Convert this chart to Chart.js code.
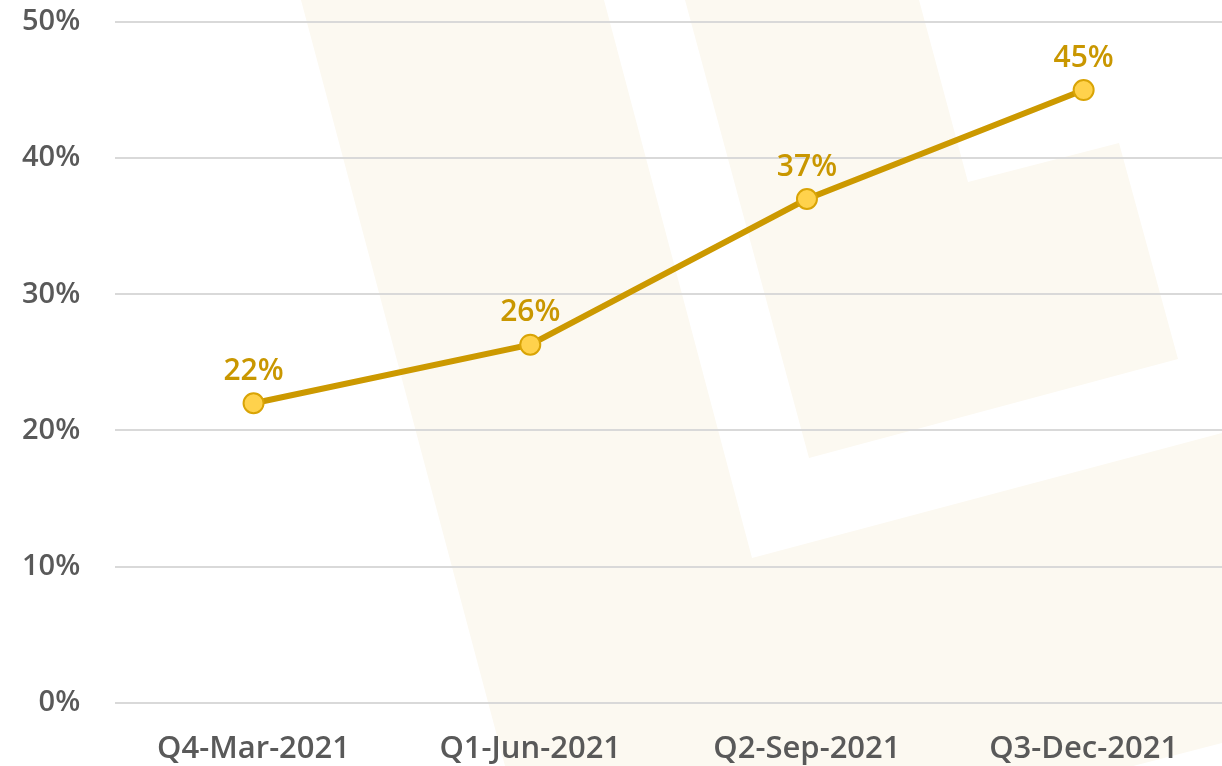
<!DOCTYPE html>
<html lang="en">
<head>
    <meta charset="UTF-8">
    <title>Quarterly share</title>
    <style>
        html, body { margin: 0; padding: 0; background: #ffffff; }
        #chartBox { width: 1222px; height: 766px; }
    </style>
</head>
<body>
    <div id="chartBox">
        <canvas id="shareChart" width="1222" height="766"></canvas>
    </div>

    <script src="https://cdn.jsdelivr.net/npm/chart.js"></script>
    <script>
        // Chart data
        const quarters = ['Q4-Mar-2021', 'Q1-Jun-2021', 'Q2-Sep-2021', 'Q3-Dec-2021'];
        const shareValues = [22, 26.3, 37, 45];
        const yTicks = [0, 10, 20, 30, 40, 50];

        const fontFamily = '"Open Sans", "Noto Sans", sans-serif';

        // Faint logo in the background
        const watermark = {
            id: 'watermark',
            beforeDraw(chart) {
                const ctx = chart.ctx;
                const shapes = [
                    [[301, 0], [604, 0], [752, 558], [1222, 433], [1222, 743], [1133, 766], [505, 766]],
                    [[685, 0], [919, 0], [968, 182], [1119, 143], [1178, 359], [809, 458]]
                ];
                ctx.save();
                ctx.fillStyle = '#fcf9f1';
                shapes.forEach(pts => {
                    ctx.beginPath();
                    pts.forEach((p, i) => i ? ctx.lineTo(p[0], p[1]) : ctx.moveTo(p[0], p[1]));
                    ctx.closePath();
                    ctx.fill();
                });
                ctx.restore();
            }
        };

        // Value labels above each point
        const pointLabels = {
            id: 'pointLabels',
            afterDatasetsDraw(chart) {
                const ctx = chart.ctx;
                const meta = chart.getDatasetMeta(0);
                ctx.save();
                ctx.font = '600 30px ' + fontFamily;
                ctx.fillStyle = '#c99700';
                ctx.textAlign = 'center';
                ctx.textBaseline = 'middle';
                meta.data.forEach((pt, i) => {
                    ctx.fillText(Math.round(shareValues[i]) + '%', pt.x, pt.y - 32);
                });
                ctx.restore();
            }
        };

        new Chart(document.getElementById('shareChart').getContext('2d'), {
            type: 'line',
            data: {
                labels: quarters,
                datasets: [{
                    data: shareValues,
                    borderColor: '#cc9900',
                    borderWidth: 6,
                    pointRadius: 10,
                    pointHoverRadius: 10,
                    pointBackgroundColor: '#ffd24c',
                    pointBorderColor: '#d9a406',
                    pointBorderWidth: 2,
                    tension: 0
                }]
            },
            options: {
                responsive: false,
                animation: false,
                layout: {
                    autoPadding: false,
                    padding: { top: 22, left: 22, right: 0, bottom: -2 }
                },
                plugins: {
                    legend: { display: false },
                    tooltip: { enabled: false }
                },
                scales: {
                    x: {
                        offset: true,
                        // transparent ticks give the gap under the plot without extra side padding
                        grid: { color: 'transparent', drawTicks: true, tickLength: 28 },
                        border: { display: false },
                        ticks: {
                            color: '#595959',
                            padding: 0,
                            maxRotation: 0,
                            font: { family: fontFamily, size: 31, weight: '600' }
                        }
                    },
                    y: {
                        min: 0,
                        max: 50,
                        afterBuildTicks(axis) {
                            axis.ticks = yTicks.map(v => ({ value: v }));
                        },
                        grid: { color: '#d9d9d9', lineWidth: 2, drawTicks: true, tickLength: 35, tickColor: 'transparent' },
                        border: { display: false },
                        ticks: {
                            color: '#595959',
                            padding: 0,
                            font: { family: fontFamily, size: 29, weight: '600' },
                            callback: v => v + '%'
                        }
                    }
                }
            },
            plugins: [watermark, pointLabels]
        });
    </script>
</body>
</html>
